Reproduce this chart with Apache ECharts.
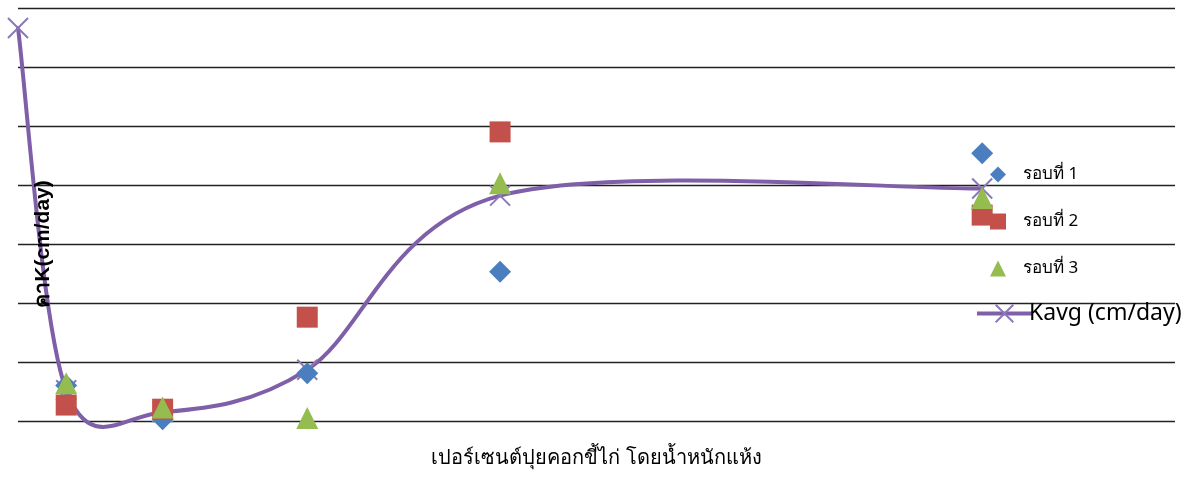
<!DOCTYPE html>
<html>
<head>
<meta charset="utf-8">
<script src="https://cdn.jsdelivr.net/npm/echarts@6/dist/echarts.min.js"></script>
<style>
  html, body { margin: 0; padding: 0; background: #ffffff; }
  #chart { width: 1186px; height: 480px; }
</style>
</head>
<body>
<div id="chart"></div>
<script>
// Manure percentage (by dry weight) on the x axis
const percents = [0, 5, 15, 30, 50, 100];

// Permeability K (cm/day) for each run; null = no measurement
const run1 = [null, 0.60, 0.03, 0.81, 2.53, 4.54];
const run2 = [null, 0.27, 0.20, 1.76, 4.90, 3.49];
const run3 = [null, 0.64, 0.23, 0.05, 4.03, 3.78];
const kavg = [6.66, 0.52, 0.15, 0.87, 3.82, 3.94];

const seriesNames = ['รอบที่ 1', 'รอบที่ 2', 'รอบที่ 3', 'Kavg (cm/day)'];
const xTitle = 'เปอร์เซนต์ปุยคอกขี้ไก่ โดยน้ำหนักแห้ง';
const yTitle = 'คาK(cm/day)';

const pairs = (ys) => percents.map((x, i) => [x, ys[i]]).filter(p => p[1] !== null);
const kavgPairs = pairs(kavg);

const FONT = '"Noto Sans", "DejaVu Sans", sans-serif';
const LINE_COLOR = '#7E5FA8';
const CROSS_COLOR = '#8C78B9';
const crossPath = 'path://M0,0L10,10M10,0L0,10';

// Smoothed trend line: cubic Bezier segments through the pixel positions
// of the averages, control points from neighbouring points (tension 1/6).
function smoothPath(pts) {
  let d = 'M' + pts[0][0] + ',' + pts[0][1];
  for (let i = 0; i < pts.length - 1; i++) {
    const p0 = pts[Math.max(i - 1, 0)];
    const p1 = pts[i];
    const p2 = pts[i + 1];
    const p3 = pts[Math.min(i + 2, pts.length - 1)];
    const c1x = p1[0] + (p2[0] - p0[0]) / 6;
    const c1y = p1[1] + (p2[1] - p0[1]) / 6;
    const c2x = p2[0] - (p3[0] - p1[0]) / 6;
    const c2y = p2[1] - (p3[1] - p1[1]) / 6;
    d += 'C' + c1x + ',' + c1y + ',' + c2x + ',' + c2y + ',' + p2[0] + ',' + p2[1];
  }
  return d;
}

const chart = echarts.init(document.getElementById('chart'), null, { renderer: 'canvas' });

chart.setOption({
  animation: false,
  backgroundColor: '#ffffff',
  textStyle: { fontFamily: FONT },
  grid: { left: 18, right: 11, top: 8, bottom: 59, containLabel: false },
  xAxis: {
    type: 'value', min: 0, max: 120,
    name: xTitle, nameLocation: 'middle', nameGap: 27,
    nameTextStyle: { fontSize: 20, color: '#000', fontFamily: FONT },
    axisLine: { show: false }, axisTick: { show: false },
    axisLabel: { show: false }, splitLine: { show: false }
  },
  yAxis: {
    type: 'value', min: 0, max: 7, interval: 1,
    axisLine: { show: false }, axisTick: { show: false },
    axisLabel: { show: false },
    splitLine: { show: true, lineStyle: { color: '#222', width: 1.3 } }
  },
  graphic: [{
    type: 'text', x: 43, y: 244, rotation: Math.PI / 2, z: 100,
    style: {
      text: yTitle, fontSize: 21, fontWeight: 'bold', fill: '#000',
      fontFamily: '"Liberation Sans", "Noto Sans", sans-serif',
      align: 'center', verticalAlign: 'middle'
    }
  }],
  legend: [{
    data: seriesNames.slice(0, 3),
    orient: 'vertical', left: 985, top: 161,
    itemWidth: 16, itemHeight: 16, itemGap: 30,
    textStyle: { fontSize: 17, lineHeight: 16, color: '#000', fontFamily: FONT, padding: [0, 0, 0, 12] }
  }, {
    data: [{
      name: seriesNames[3],
      lineStyle: { color: LINE_COLOR, width: 4, opacity: 1 }
    }],
    orient: 'vertical', left: 970, top: 297,
    itemWidth: 55, itemHeight: 22, itemGap: 0,
    textStyle: { fontSize: 23, color: '#000', fontFamily: FONT, padding: [0, 0, 0, -8] }
  }],
  series: [{
    // smoothed curve through the averages
    type: 'custom', z: 1, silent: true,
    data: kavgPairs,
    encode: { x: 0, y: 1 },
    renderItem: function (params, api) {
      if (params.dataIndex !== 0) return null;
      const pts = kavgPairs.map(p => api.coord(p));
      return {
        type: 'path',
        shape: { pathData: smoothPath(pts) },
        style: { stroke: LINE_COLOR, lineWidth: 4, fill: null, lineJoin: 'round', lineCap: 'round' }
      };
    }
  }, {
    name: seriesNames[3], type: 'line', data: kavgPairs, z: 2,
    lineStyle: { color: LINE_COLOR, width: 4, opacity: 0 },
    symbol: crossPath, symbolSize: 20,
    itemStyle: { color: CROSS_COLOR, borderColor: CROSS_COLOR, borderWidth: 2, opacity: 1 }
  }, {
    name: seriesNames[0], type: 'scatter', data: pairs(run1),
    symbol: 'diamond', symbolSize: 22, z: 3,
    itemStyle: { color: '#4A7EBF', opacity: 1 }
  }, {
    name: seriesNames[1], type: 'scatter', data: pairs(run2),
    symbol: 'rect', symbolSize: 21, z: 4,
    itemStyle: { color: '#C4504B', opacity: 1 }
  }, {
    name: seriesNames[2], type: 'scatter', data: pairs(run3),
    symbol: 'triangle', symbolSize: [22, 22], z: 5,
    itemStyle: { color: '#95BC4F', opacity: 1 }
  }]
});
</script>
</body>
</html>
